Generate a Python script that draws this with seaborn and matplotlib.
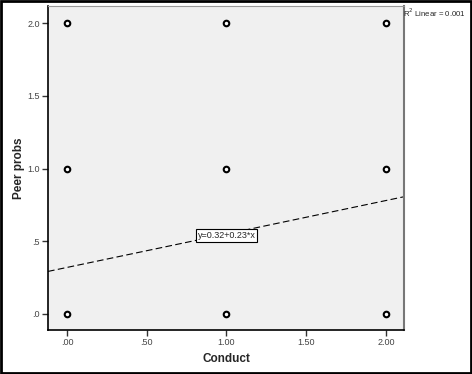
import matplotlib
matplotlib.use("Agg")
import matplotlib.pyplot as plt
import seaborn as sns
import pandas as pd
import numpy as np
from matplotlib.patches import Rectangle

conduct = [0, 1, 2, 0, 1, 2, 0, 1, 2]
peer_probs = [0, 0, 0, 1, 1, 1, 2, 2, 2]
intercept = 0.32
slope = 0.23
x_ticks = [0.0, 0.5, 1.0, 1.5, 2.0]
x_tick_labels = [".00", ".50", "1.00", "1.50", "2.00"]
y_ticks = [0.0, 0.5, 1.0, 1.5, 2.0]
y_tick_labels = [".0", ".5", "1.0", "1.5", "2.0"]
fit_label = "y=0.32+0.23*x"
r2_label = "R$^2$ Linear = 0.001"

df = pd.DataFrame({"Conduct": conduct, "Peer probs": peer_probs})

sns.set_style("white")
plt.rcParams['font.family'] = ['Arial', 'Liberation Sans', 'DejaVu Sans']

fig = plt.figure(figsize=(4.72, 3.74), dpi=100)
ax = fig.add_axes([48/472, 1 - 330/374, (404-48)/472, (330-6)/374])
ax.set_facecolor("#f0f0f0")

sns.scatterplot(data=df, x="Conduct", y="Peer probs", ax=ax, marker="o",
                s=16, facecolor="white", edgecolor="black", linewidth=1.5, zorder=3)

xlim = (-0.119, 2.113)
ylim = (-0.11, 2.117)
xs = np.array(xlim)
ax.plot(xs, intercept + slope * xs, color="black", linestyle=(0, (6, 3)), linewidth=0.8, zorder=2)
ax.set_xlim(xlim)
ax.set_ylim(ylim)

ax.set_xticks(x_ticks)
ax.set_xticklabels(x_tick_labels)
ax.set_yticks(y_ticks)
ax.set_yticklabels(y_tick_labels)
ax.tick_params(axis="both", direction="out", length=4, width=1, color="#333333",
               labelsize=6.5, labelcolor="#444444", bottom=True, left=True, pad=2)

ax.set_xlabel("Conduct", fontsize=8.5, fontweight="bold")
ax.set_ylabel("Peer probs", fontsize=8.5, fontweight="bold")
ax.xaxis.set_label_coords(0.5, -0.072)
ax.yaxis.set_label_coords(-0.066, 0.5)

for side in ["left", "bottom"]:
    ax.spines[side].set_color("black")
    ax.spines[side].set_linewidth(1.2)
ax.spines["top"].set_color("#999999")
ax.spines["right"].set_color("#777777")
ax.spines["right"].set_linewidth(1.5)
ax.spines["top"].set_linewidth(0.8)

ax.text(1.0, 0.54, fit_label, fontsize=6.5, ha="center", va="center",
        bbox=dict(boxstyle="square,pad=0.2", facecolor="white", edgecolor="black", linewidth=0.8),
        zorder=4)

fig.text(403/472, 1 - 13/374, r2_label, fontsize=5.6, ha="left", va="center")

fig.patches.append(Rectangle((0.003, 0.003), 0.994, 0.994, transform=fig.transFigure,
                             fill=False, edgecolor="black", linewidth=2))

fig.savefig("out.png", dpi=100)
